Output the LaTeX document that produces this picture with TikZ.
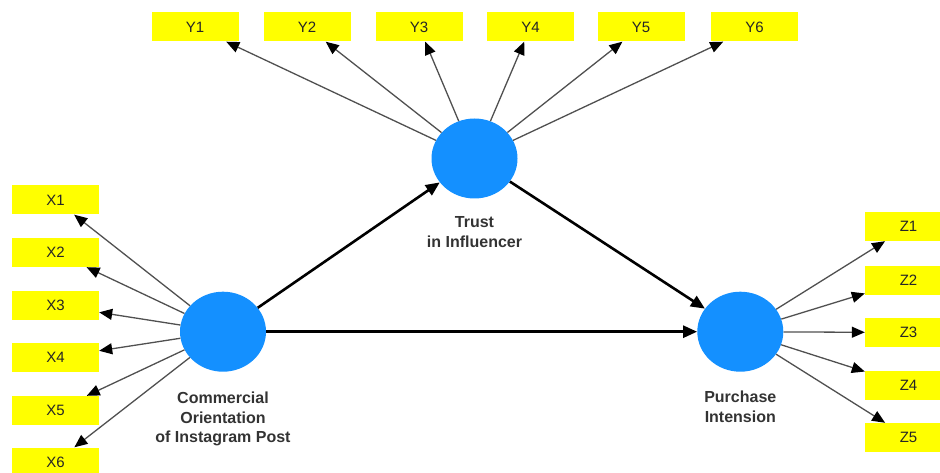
\documentclass[tikz,border=0pt]{standalone}
\usepackage{fontspec}
\setmainfont{Liberation Sans}
\usetikzlibrary{positioning}
\usetikzlibrary{shapes}
\usetikzlibrary{arrows.meta}
\definecolor{latentblue}{RGB}{20,144,255}
\definecolor{itemyellow}{RGB}{255,255,0}
\definecolor{labelgray}{RGB}{51,51,51}
\definecolor{loadgray}{RGB}{80,80,80}

\begin{document}
\begin{tikzpicture}[x=1pt, y=1pt,
    lv/.style={ellipse, fill=latentblue, minimum width=86pt, minimum height=80pt, inner sep=0pt},
    mv/.style={rectangle, fill=itemyellow, minimum width=87pt, minimum height=29pt, inner sep=0pt, text=black!85, font=\fontsize{15}{18}\selectfont},
    lvtext/.style={align=center, inner sep=0pt, text=labelgray, font=\fontsize{16}{19.5}\selectfont\bfseries},
    load/.style={draw=loadgray, line width=1.3pt, -{Triangle[length=13pt,width=11pt,color=black]}},
    struct/.style={draw=black, line width=2.6pt, -{Triangle[length=14pt,width=12pt]}}
    ]
\useasboundingbox (0,0) rectangle (940,472);
% latent variables
\node[lv] at (223, 140.3) (coip) {};
\node[lv] at (474.5, 313.5) (trust) {};
\node[lv] at (740.3, 140.3) (pi) {};
\node[lvtext, below=20pt of coip] (coiptext) {Commercial\\Orientation\\of Instagram Post};
\node[lvtext, below=18pt of trust] (trusttext) {Trust\\in Influencer};
\node[lvtext, below=19pt of pi] (pitext) {Purchase\\Intension};
% indicators
\node[mv] at (55.5, 272) (x1) {X1};
\node[mv] at (55.5, 219.5) (x2) {X2};
\node[mv] at (55.5, 166.5) (x3) {X3};
\node[mv] at (55.5, 114.5) (x4) {X4};
\node[mv] at (55.5, 61.5) (x5) {X5};
\node[mv] at (55.5, 10) (x6) {X6};
\node[mv] at (195, 445) (y1) {Y1};
\node[mv] at (307, 445) (y2) {Y2};
\node[mv] at (419, 445) (y3) {Y3};
\node[mv] at (530.5, 445) (y4) {Y4};
\node[mv] at (641, 445) (y5) {Y5};
\node[mv] at (754.5, 445) (y6) {Y6};
\node[mv] at (908.5, 245.5) (z1) {Z1};
\node[mv] at (908.5, 192) (z2) {Z2};
\node[mv] at (908.5, 139.5) (z3) {Z3};
\node[mv] at (908.5, 86.5) (z4) {Z4};
\node[mv] at (908.5, 34.5) (z5) {Z5};
% loadings
\draw[load] (coip) -- (x1);
\draw[load] (coip) -- (x2);
\draw[load] (coip) -- (x3);
\draw[load] (coip) -- (x4);
\draw[load] (coip) -- (x5);
\draw[load] (coip) -- (x6);
\draw[load] (trust) -- (y1);
\draw[load] (trust) -- (y2);
\draw[load] (trust) -- (y3);
\draw[load] (trust) -- (y4);
\draw[load] (trust) -- (y5);
\draw[load] (trust) -- (y6);
\draw[load] (pi) -- (z1);
\draw[load] (pi) -- (z2);
\draw[load] (pi) -- (z3);
\draw[load] (pi) -- (z4);
\draw[load] (pi) -- (z5);
% paths
\draw[struct] (coip) -- (trust);
\draw[struct] (coip) -- (pi);
\draw[struct] (trust) -- (pi);
\end{tikzpicture}
\end{document}
